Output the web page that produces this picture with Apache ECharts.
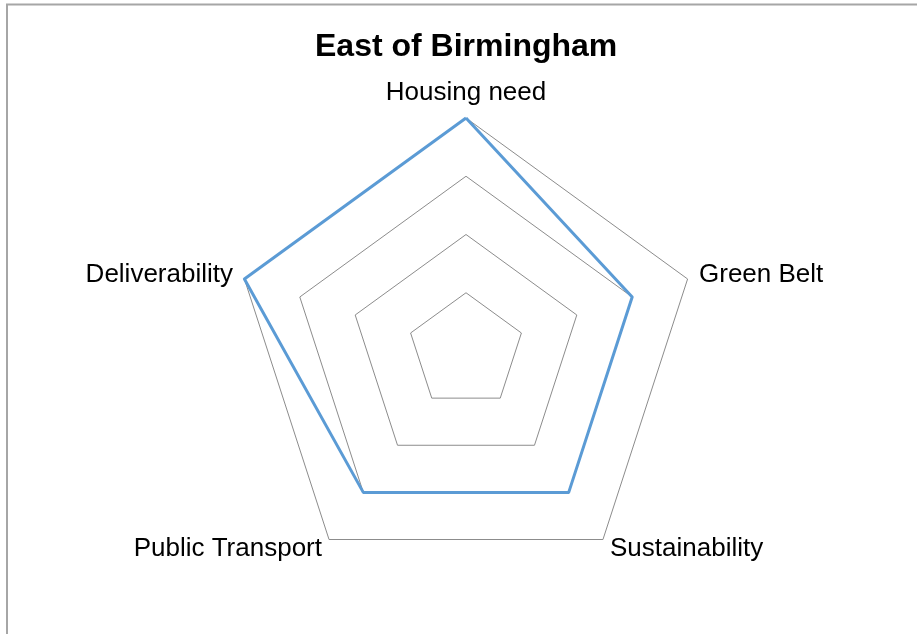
<!DOCTYPE html>
<html>
<head>
<meta charset="utf-8">
<script src="https://cdn.jsdelivr.net/npm/echarts@6/dist/echarts.min.js"></script>
<style>
html,body{margin:0;padding:0;background:#fff;}
#chart{width:917px;height:634px;}
</style>
</head>
<body>
<div id="chart"></div>
<script>
// Reference order, clockwise from the top
const indicators = ['Housing need', 'Green Belt', 'Sustainability', 'Public Transport', 'Deliverability'];
const values = [4, 3, 3, 3, 4];
const maxValue = 4;
const titleText = 'East of Birmingham';

// ECharts radar lays indicators out counter-clockwise; reorder to draw clockwise
const order = [0].concat(indicators.map((_, i) => i).slice(1).reverse());
const indOrdered = order.map(i => ({name: indicators[i], min: 0, max: maxValue}));
const valOrdered = order.map(i => values[i]);

const chart = echarts.init(document.getElementById('chart'), null, {renderer: 'canvas'});
chart.setOption({
  backgroundColor: '#fff',
  animation: false,
  title: {
    text: titleText,
    left: 310,
    top: 26,
    textStyle: {fontFamily: 'Liberation Sans', fontSize: 32, fontWeight: 'bold', color: '#000'}
  },
  graphic: [{
    type: 'rect',
    shape: {x: 7, y: 4.5, width: 1200, height: 1200},
    style: {fill: 'none', stroke: '#a6a6a6', lineWidth: 2},
    silent: true
  }],
  radar: {
    center: [466, 351],
    radius: 233,
    startAngle: 90,
    splitNumber: 4,
    shape: 'polygon',
    nameGap: 12,
    indicator: indOrdered,
    axisName: {color: '#000', fontFamily: 'Liberation Sans', fontSize: 26},
    axisLine: {show: false},
    axisTick: {show: false},
    axisLabel: {show: false},
    splitArea: {show: false},
    splitLine: {lineStyle: {color: '#8c8c8c', width: 1}}
  },
  series: [{
    type: 'radar',
    symbol: 'none',
    lineStyle: {color: '#5b9bd5', width: 3},
    data: [{value: valOrdered, name: titleText}]
  }]
});
</script>
</body>
</html>
